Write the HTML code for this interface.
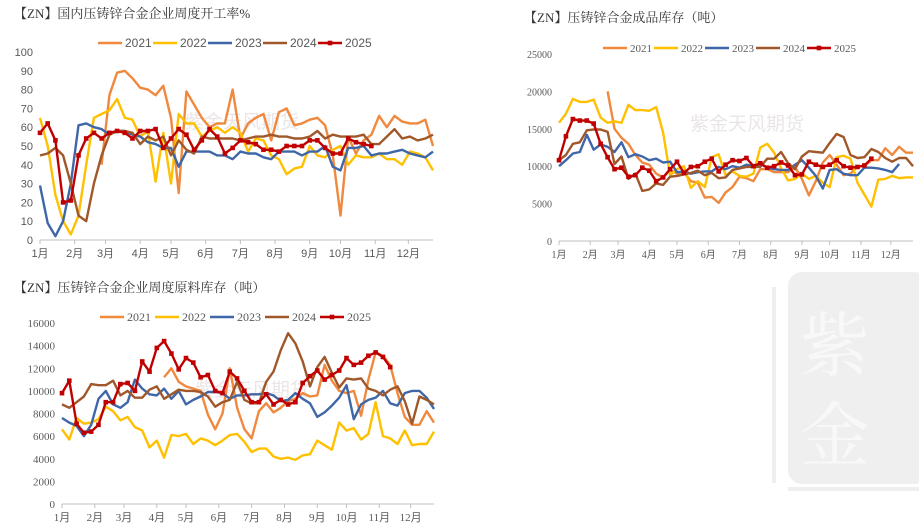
<!DOCTYPE html>
<html><head><meta charset="utf-8">
<style>
body{margin:0;background:#fff;width:919px;height:523px;overflow:hidden;position:relative;font-family:"Liberation Sans","Noto Sans CJK SC",sans-serif}
svg{position:absolute;left:0;top:0}
</style></head>
<body>
<svg id="wm" width="919" height="523">
<rect x="788" y="272" width="140" height="212" rx="14" fill="#efefef"/>
<rect x="772" y="287" width="4" height="196" fill="#efefef"/>
<rect x="788" y="487" width="135" height="4" fill="#efefef"/>
<text x="800" y="370" font-size="70" fill="#f8f8f8" font-family="Noto Serif CJK SC, serif">紫</text>
<text x="800" y="460" font-size="70" fill="#f8f8f8" font-family="Noto Serif CJK SC, serif">金</text>
</svg>
<svg id="chart" width="919" height="523"></svg>
<script>
const months=["1月","2月","3月","4月","5月","6月","7月","8月","9月","10月","11月","12月"];
const monthWeek=[0,4.5,8.5,13,17,21.5,26,30.5,35,39,43.5,47.8];
const years=["2021","2022","2023","2024","2025"];
const colors=["#F0883E","#FFC000","#3F67A8","#A0582A","#C00000"];
// chart 1: operating rate %
const c1_2021=[null,null,null,null,null,null,null,null,40,77,89,90,86,81,80,77,82,65,25,79,72,65,60,62,62,80,54,62,65,67,53,68,70,61,62,64,65,61,45,13,55,46,53,56,66,60,66,63,62,62,64,50];
const c1_2022=[65,50,24,10,3,13,40,65,67,69,75,65,64,55,58,31,57,30,67,62,62,55,58,60,57,60,57,47,54,53,45,43,35,38,39,50,45,44,48,50,40,45,44,44,46,43,43,40,47,46,44,37];
const c1_2023=[29,9,2,10,30,61,62,60,59,56,58,58,56,55,52,51,49,49,39,47,47,47,47,45,45,43,47,46,46,44,43,47,47,47,45,47,47,50,39,37,49,49,50,45,46,46,47,48,46,45,44,47];
const c1_2024=[45,46,49,45,30,13,10,30,45,56,58,58,57,51,55,53,55,45,53,48,46,55,54,54,54,54,53,54,55,55,56,55,55,54,54,55,58,54,56,55,55,55,56,51,51,55,59,54,55,53,54,56];
const c1_2025=[57,62,53,20,21,45,54,57,54,57,58,57,54,58,58,59,49,54,59,56,48,53,59,55,46,49,53,52,51,48,48,47,50,50,50,53,53,49,46,46,54,52,51,50];
const c1_ticks=[0,10,20,30,40,50,60,70,80,90,100];
// chart 2: finished goods inventory (tons)
const c2_2021=[null,null,null,null,null,null,null,20000,15000,13800,13000,11500,10500,10200,9000,8500,9500,9000,9200,8000,7800,5800,5900,5100,6500,7200,8600,8400,8000,9600,9600,9200,9200,9200,9900,8300,6100,8000,10500,11500,10200,8800,9000,10000,10000,10800,10800,12400,11500,12600,11800,11800];
const c2_2022=[15800,17000,19000,18600,18600,18900,16500,15800,16000,15800,18200,17500,17500,17400,17900,14500,8800,9600,10000,7100,8000,7200,11200,11600,8800,9300,8700,8600,9000,12500,13000,11800,9700,8100,8300,9000,8300,8700,7800,7200,11200,11400,11000,7800,6200,4600,8200,8300,8700,8400,8500,8500];
const c2_2023=[10000,10800,11700,11900,14200,12200,12900,12600,11900,13200,11200,11600,11300,10800,11000,10500,10600,9200,9300,9000,9200,9300,9300,9900,9600,10000,9800,10200,10000,10300,9800,9600,9500,9500,10200,10800,9800,8700,7000,9500,9600,9000,8800,8800,9800,9800,9700,9500,9200,10300];
const c2_2024=[10800,11500,13000,13200,14800,14900,14900,14600,10300,11300,8300,9000,6700,6900,7700,7500,8600,8700,8900,9100,9400,8800,9100,8400,8500,9500,9700,9900,9900,9900,11000,11000,11900,10400,9600,11300,12000,11900,11800,13100,14300,13900,11500,11100,11200,12300,11900,11100,10600,11100,11100,10000];
const c2_2025=[10800,14000,16300,16100,16100,15700,13000,11200,9600,9800,8600,8800,9800,9400,8000,8500,9600,10600,9100,9900,10000,10600,11000,9300,10200,10800,10700,11100,10000,10400,9800,10000,10500,10100,8800,8900,10600,10200,9900,10200,10800,10000,9800,9900,10100,11000];
const c2_ticks=[0,5000,10000,15000,20000,25000];
// chart 3: raw material inventory (tons)
const c3_2021=[null,null,null,null,null,null,null,null,null,null,null,null,null,null,11200,12000,10800,10400,10200,10000,7900,6600,8000,12000,8500,6600,5800,8200,8900,8100,8500,9100,9300,9800,9500,9600,12300,10900,10000,9800,10000,7800,11000,13400,13100,12300,9800,7700,7000,7000,8200,7200];
const c3_2022=[6600,5700,7600,7100,7200,7500,8600,8200,7400,7700,6800,6500,5000,5600,4100,6100,6000,6200,5300,5800,5600,5200,5600,6100,6200,5500,4600,4900,4900,4200,4000,4100,3900,4300,4400,5600,5200,4800,7200,6500,6700,5700,6200,9000,6000,5800,5300,6500,5200,5300,5300,6400];
const c3_2023=[7600,7200,6900,6000,7000,9300,10000,8800,8500,9000,11000,10200,9700,9600,10200,9300,10000,8800,9200,9500,9900,9900,9800,9300,9600,9600,9700,9700,9800,9600,9100,9200,9800,9300,8900,7700,8100,8700,9400,10500,7500,8800,9200,9400,10000,8900,8700,9800,10000,10000,9400,8400];
const c3_2024=[8800,8500,9000,9500,10600,10500,10500,10900,9600,10000,9400,9400,10100,10400,9300,9700,10100,10000,10000,9900,9500,8600,9000,9200,10800,9200,8900,8900,10800,11700,13600,15100,14200,12600,10400,12100,13000,11600,10300,11100,11000,11100,10200,10000,9600,10100,10400,9100,7100,9500,9200,8800];
const c3_2025=[9800,10900,7100,6300,6400,7000,9000,9000,10600,10700,10000,12600,11700,13800,14400,13300,11900,12900,12500,11200,11400,10000,9800,11700,11100,10000,9000,9000,9700,8800,9200,8800,9000,10700,11300,11800,11000,11400,11800,12900,12300,12500,13100,13400,13000,12100];
const c3_ticks=[0,2000,4000,6000,8000,10000,12000,14000,16000];

const svg=document.getElementById('chart');
const NS="http://www.w3.org/2000/svg";
function mk(tag,attrs,parent){const e=document.createElementNS(NS,tag);for(const k in attrs)e.setAttribute(k,attrs[k]);(parent||svg).appendChild(e);return e;}

function drawChart(cfg){
  const g=mk('g',{});
  
  
  const {x0,x1,y0,y1,ymax}=cfg;
  const xs=i=>x0+(x1-x0)*i/51;
  const ys=v=>y0-(y0-y1)*v/ymax;
  const t=mk('text',{x:cfg.tx,y:cfg.ty,'font-size':13,fill:'#333','font-family':'"Liberation Serif","Noto Serif CJK SC",serif'},g);
  t.textContent=cfg.title;
  
  
  const wm=mk('text',{x:cfg.wmx,y:cfg.wmy,'font-size':19,fill:'#ebe6e6','font-family':'"Noto Sans CJK SC",sans-serif'},g);
  wm.textContent='紫金天风期货';
  
  
  cfg.ticks.forEach(v=>{
    const l=mk('text',{x:x0-7,y:ys(v)+4,'font-size':cfg.fs,'text-anchor':'end',fill:'#595959','font-family':cfg.font},g);
    l.textContent=v;
    
    
  });
  const ax=mk('line',{x1:x0,y1:y0,x2:x1,y2:y0,stroke:'#bfbfbf','stroke-width':1},g);
  
  
  months.forEach((m,i)=>{
    const x=xs(monthWeek[i]);
    const tk=mk('line',{x1:x,y1:y0,x2:x,y2:y0+4,stroke:'#bfbfbf'},g);
    
    
    const l=mk('text',{x:x,y:y0+17,'font-size':cfg.fs,'text-anchor':'middle',fill:'#595959','font-family':cfg.font+',"Noto Sans CJK SC",sans-serif'},g);
    l.textContent=m;
    
    
  });
  cfg.series.forEach((data,si)=>{
    let d='';let pen=false;
    data.forEach((v,i)=>{ if(v==null){pen=false;return;} d+=(pen?'L':'M')+xs(i).toFixed(1)+','+ys(v).toFixed(1);pen=true;});
    const p=mk('path',{d:d,fill:'none',stroke:colors[si],'stroke-width':2.4,'stroke-linejoin':'round'},g);
    
    
    if(si===4){
      data.forEach((v,i)=>{ if(v==null)return;
        const r=mk('rect',{x:xs(i)-2.3,y:ys(v)-2.3,width:4.6,height:4.6,fill:colors[4]},g);
        
        
      });
    }
  });
  years.forEach((yr,i)=>{
    const lx=cfg.lx+i*cfg.lstep;
    const ln=mk('line',{x1:lx,y1:cfg.ly,x2:lx+24,y2:cfg.ly,stroke:colors[i],'stroke-width':2.4},g);
    
    
    if(i===4){const r=mk('rect',{x:lx+9.7,y:cfg.ly-2.3,width:4.6,height:4.6,fill:colors[4]},g);
      
      }
    const lt=mk('text',{x:lx+27,y:cfg.ly+4,'font-size':cfg.fs+1,fill:'#595959','font-family':cfg.font},g);
    lt.textContent=yr;
    
    
  });
}
drawChart({name:'operating-rate-chart',title:'【ZN】国内压铸锌合金企业周度开工率%',tx:14,ty:18,x0:40,x1:433,y0:240,y1:52,ymax:100,ticks:c1_ticks,fs:11,font:'"Liberation Sans"',series:[c1_2021,c1_2022,c1_2023,c1_2024,c1_2025],lx:98,lstep:55,ly:43,wmx:185,wmy:128});
drawChart({name:'finished-inventory-chart',title:'【ZN】压铸锌合金成品库存（吨）',tx:524,ty:22,x0:559,x1:913,y0:241,y1:54,ymax:25000,ticks:c2_ticks,fs:10,font:'"Liberation Serif"',series:[c2_2021,c2_2022,c2_2023,c2_2024,c2_2025],lx:603,lstep:51,ly:48,wmx:690,wmy:130});
drawChart({name:'raw-material-inventory-chart',title:'【ZN】压铸锌合金企业周度原料库存（吨）',tx:14,ty:292,x0:62,x1:434,y0:504,y1:323,ymax:16000,ticks:c3_ticks,fs:11,font:'"Liberation Serif"',series:[c3_2021,c3_2022,c3_2023,c3_2024,c3_2025],lx:100,lstep:55,ly:317,wmx:195,wmy:396});
</script>
</body></html>
